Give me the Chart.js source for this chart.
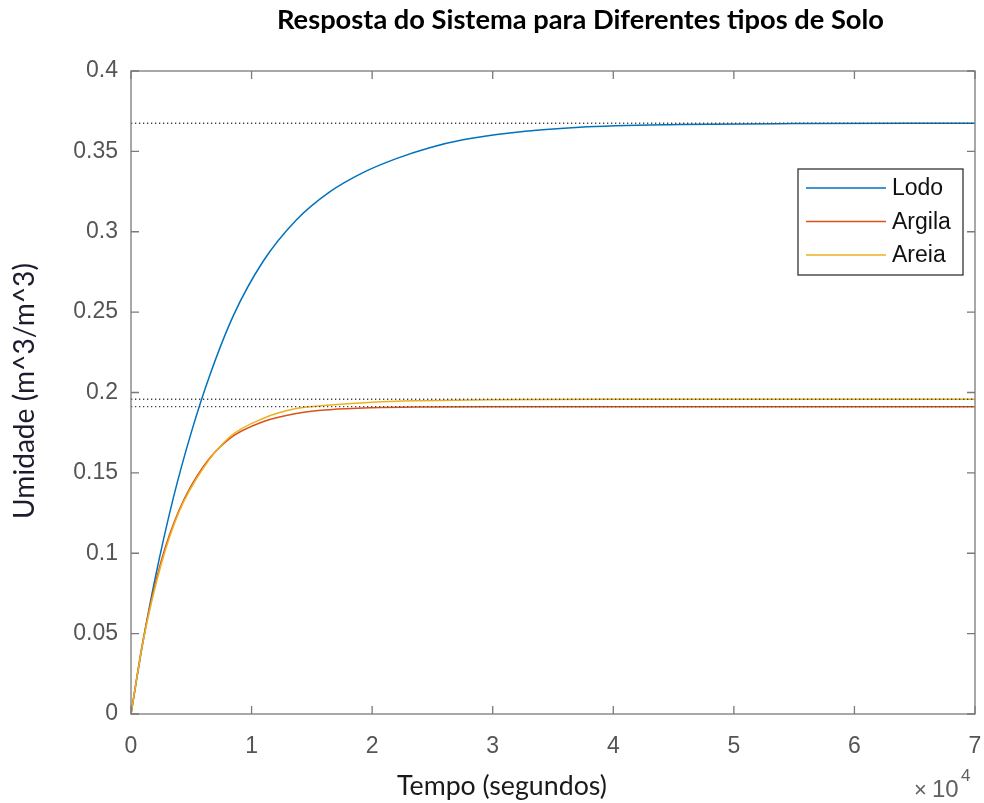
<!DOCTYPE html>
<html>
<head>
<meta charset="utf-8">
<script src="https://cdn.jsdelivr.net/npm/chart.js@4/dist/chart.umd.min.js"></script>
<style>
html,body{margin:0;padding:0;background:#fff;}
#wrap{width:984px;height:803px;position:relative;}
</style>
</head>
<body>
<div id="wrap"><canvas id="c" width="984" height="803"></canvas></div>
<script>
// ---- data (time in seconds, moisture in m^3/m^3) ----
const chartTitle = 'Resposta do Sistema para Diferentes tipos de Solo';
const xTitle = 'Tempo (segundos)';
const yTitle = 'Umidade (m^3/m^3)';
const seriesNames = ['Lodo', 'Argila', 'Areia'];

const lodoTime = [0, 1000, 2000, 3500, 5000, 6500, 8500, 10950, 13710, 16480, 19240, 22000, 24770, 27530, 31400, 37200, 45500, 55000, 70000];
const lodo     = [0, 0.0450, 0.0843, 0.1341, 0.1752, 0.2100, 0.2480, 0.2815, 0.3073, 0.3248, 0.3368, 0.3455, 0.3523, 0.3572, 0.3615, 0.3650, 0.3667, 0.3673, 0.3675];

const argilaTime = [0, 1000, 2500, 4000, 6000, 8200, 11000, 13700, 16500, 20000, 24000, 30000, 70000];
const argila     = [0, 0.046, 0.095, 0.127, 0.154, 0.1715, 0.182, 0.187, 0.1893, 0.1905, 0.1910, 0.1912, 0.1912];

const areiaTime = [0, 1000, 2500, 4000, 6000, 8200, 11000, 13700, 16500, 20000, 24000, 30000, 40000, 70000];
const areia     = [0, 0.045, 0.093, 0.126, 0.153, 0.1725, 0.184, 0.190, 0.1922, 0.1940, 0.1949, 0.1955, 0.1958, 0.1958];

const steadyValues = [0.3675, 0.1958, 0.1912];
const xRange = [0, 70000];
const yRange = [0, 0.4];
const xStep = 10000;
const yStep = 0.05;

const colors = ['#0072BD', '#D95319', '#EDB120'];

function pts(t, v){ return t.map((x,i)=>({x:x, y:v[i]})); }

const datasets = [
  {label: seriesNames[0], data: pts(lodoTime, lodo), borderColor: colors[0], order: 3},
  {label: seriesNames[1], data: pts(argilaTime, argila), borderColor: colors[1], order: 2},
  {label: seriesNames[2], data: pts(areiaTime, areia), borderColor: colors[2], order: 1}
].map(d => Object.assign(d, {borderWidth: 1.5, pointRadius: 0, fill: false, cubicInterpolationMode: 'monotone'}));

steadyValues.forEach(v => {
  datasets.push({label: '_ss', data: [{x: xRange[0], y: v}, {x: xRange[1], y: v}],
    borderColor: '#444', borderWidth: 1.3, borderDash: [1.3, 2.7], pointRadius: 0, fill: false, order: 0});
});

function fitFont(ctx, text, weight, family, width){
  ctx.font = weight + ' 20px ' + family;
  const w = ctx.measureText(text).width;
  return weight + ' ' + (20 * width / w).toFixed(2) + 'px ' + family;
}

const decor = {
  id: 'decor',
  afterDraw(chart){
    const ctx = chart.ctx, a = chart.chartArea;
    const xs = chart.scales.x, ys = chart.scales.y;
    ctx.save();
    // box
    ctx.strokeStyle = '#7a7a7a';
    ctx.lineWidth = 1.3;
    ctx.strokeRect(a.left, a.top, a.right - a.left, a.bottom - a.top);
    // inward ticks
    const tl = 8;
    ctx.beginPath();
    for (let v = xRange[0]; v <= xRange[1]; v += xStep){
      const px = xs.getPixelForValue(v);
      ctx.moveTo(px, a.bottom); ctx.lineTo(px, a.bottom - tl);
      ctx.moveTo(px, a.top); ctx.lineTo(px, a.top + tl);
    }
    for (let i = 0; i <= Math.round((yRange[1]-yRange[0])/yStep); i++){
      const py = ys.getPixelForValue(yRange[0] + i*yStep);
      ctx.moveTo(a.left, py); ctx.lineTo(a.left + tl, py);
      ctx.moveTo(a.right, py); ctx.lineTo(a.right - tl, py);
    }
    ctx.stroke();

    // title
    ctx.fillStyle = '#000';
    ctx.textAlign = 'left';
    ctx.textBaseline = 'alphabetic';
    ctx.font = fitFont(ctx, chartTitle, 'bold', 'Lato', 607);
    ctx.fillText(chartTitle, 277, 29);

    // x title
    ctx.fillStyle = '#1a1a1a';
    ctx.font = fitFont(ctx, xTitle, 'normal', 'Lato', 210);
    ctx.fillText(xTitle, 397, 795);

    // y title
    ctx.save();
    ctx.translate(34, 519);
    ctx.rotate(-Math.PI/2);
    ctx.font = fitFont(ctx, yTitle, 'normal', 'Lato', 256);
    ctx.fillStyle = '#1c1c2e';
    ctx.fillText(yTitle, 0, 0);
    ctx.restore();

    // x10^4
    ctx.fillStyle = '#606060';
    ctx.font = '22px "Liberation Sans"';
    ctx.fillText('\u00d7', 914, 797);
    ctx.font = '24px "Liberation Sans"';
    ctx.fillText('10', 932, 797);
    ctx.font = '17px "Liberation Sans"';
    ctx.fillText('4', 961, 781);

    // legend
    const lx = 798, ly = 169, lw = 165, lh = 106;
    ctx.fillStyle = '#fff';
    ctx.fillRect(lx, ly, lw, lh);
    ctx.strokeStyle = '#333';
    ctx.lineWidth = 1.3;
    ctx.strokeRect(lx, ly, lw, lh);
    ctx.font = '23px "Liberation Sans"';
    ctx.textBaseline = 'middle';
    for (let i = 0; i < 3; i++){
      const ds = chart.data.datasets[i];
      const yy = ly + 19 + i*33.5;
      ctx.strokeStyle = ds.borderColor;
      ctx.lineWidth = 1.6;
      ctx.beginPath(); ctx.moveTo(806, yy); ctx.lineTo(886, yy); ctx.stroke();
      ctx.fillStyle = '#111';
      ctx.fillText(ds.label, 892, yy + 1);
    }
    ctx.restore();
  }
};

new Chart(document.getElementById('c'), {
  type: 'line',
  data: {datasets: datasets},
  options: {
    responsive: false,
    animation: false,
    events: [],
    layout: {padding: {left: 0, right: 9, top: 71, bottom: 0}},
    plugins: {legend: {display: false}, title: {display: false}, tooltip: {enabled: false}},
    scales: {
      x: {
        type: 'linear', min: xRange[0], max: xRange[1],
        grid: {display: false, drawTicks: false},
        border: {display: false},
        afterFit(s){ s.height = 803 - 714; s.paddingRight = 0; s.paddingLeft = 0; },
        ticks: {stepSize: xStep, padding: 19, color: '#555', font: {family: '"Liberation Sans", Arial, sans-serif', size: 23},
          callback: v => String(v / 1e4), maxRotation: 0}
      },
      y: {
        type: 'linear', min: yRange[0], max: yRange[1],
        grid: {display: false, drawTicks: false},
        border: {display: false},
        afterFit(s){ s.width = 131; s.paddingTop = 0; s.paddingBottom = 0; },
        ticks: {stepSize: yStep, padding: 13, color: '#555', font: {family: '"Liberation Sans", Arial, sans-serif', size: 23},
          callback: v => String(Math.round(v*100)/100)}
      }
    }
  },
  plugins: [decor]
});
</script>
</body>
</html>
